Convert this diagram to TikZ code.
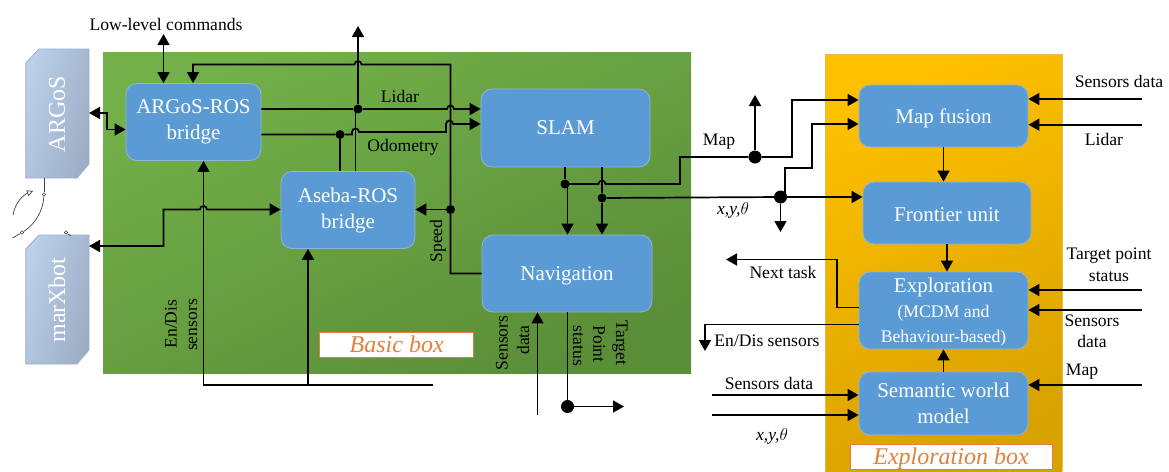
\documentclass[tikz,border=0pt]{standalone}
\usepackage{fontspec}
\setmainfont{Liberation Serif}
\usetikzlibrary{arrows.meta}
\definecolor{blk}{HTML}{5B9BD5}
\definecolor{blkedge}{HTML}{8FB6DA}
\definecolor{greenT}{HTML}{72B049}
\definecolor{greenB}{HTML}{5B8E38}
\definecolor{orangeT}{HTML}{FFC000}
\definecolor{orangeB}{HTML}{D8A200}
\definecolor{robotL}{HTML}{BBD0EA}
\definecolor{robotR}{HTML}{9DADC6}
\definecolor{robotE}{HTML}{9EB0C8}
\definecolor{titleC}{HTML}{E0813F}
\tikzset{
  x=1pt,y=-1pt,
  block/.style={draw=blkedge,line width=0.8pt,fill=blk,rounded corners=11pt,text=white,inner sep=0pt,align=center,font=\fontsize{21}{26}\selectfont},
  robottext/.style={inner sep=0pt,text=white,rotate=90,font=\fontsize{24}{28}\selectfont},
  robotbody/.style={draw=robotE,line width=0.8pt,left color=robotL,right color=robotR,shading angle=75},
  lab/.style={inner sep=0pt,text=black,align=center,font=\fontsize{17.6}{21}\selectfont},
  vlab/.style={lab,rotate=90},
  dlab/.style={lab,rotate=-90},
  boxtitle/.style={draw=titleC,line width=1pt,fill=white,text=titleC,inner sep=0pt,font=\fontsize{24}{28}\selectfont\itshape},
  wire/.style={line width=1.7pt,black},
  arr/.style={wire,-{Triangle[length=11pt,width=12pt]}},
  darr/.style={wire,{Triangle[length=11pt,width=12pt]}-{Triangle[length=11pt,width=12pt]}},
  jdot/.style={circle,fill=black,inner sep=0pt,minimum size=9pt},
  bigdot/.style={circle,fill=black,inner sep=0pt,minimum size=13pt},
  fine/.style={line width=0.7pt,black!75},
  pin/.style={circle,draw=black!75,line width=0.6pt,fill=white,inner sep=0pt,minimum size=3.5pt},
}
\newcommand{\hopr}{arc (180:360:3.5)}
\newcommand{\hopl}{arc (360:180:3.5)}
\newcommand{\xyt}{\textit{x,y,}$\theta$}
\begin{document}
\begin{tikzpicture}
\useasboundingbox (0,0) rectangle (1169,471);
% containers
\shade[top color=greenT,bottom color=greenB,shading angle=25] (103,52) rectangle (691,373);
\shade[top color=orangeT,bottom color=orangeB,shading angle=25] (825,54) rectangle (1062,471);
\draw[orangeB!70!white,line width=0.6pt] (825,471) -- (825,54) -- (1062,54) -- (1062,471);
% robots
\path[robotbody] (25.7,63) -- (39,49) -- (89,49) -- (89,164) -- (77,178) -- (25.7,178) -- cycle;
\path[robotbody] (25.7,249) -- (39,235) -- (89,235) -- (89,350) -- (77,364) -- (25.7,364) -- cycle;
\node[robottext] (argos) at (57,114) {ARGoS};
\node[robottext] (marx) at (57,300) {marXbot};
\coordinate (argosR) at (89,113);
\coordinate (marxR) at (89,246);
% blocks
\node[block,minimum width=135pt,minimum height=77pt] (arb) at (193.5,122) {ARGoS-ROS\\bridge};
\node[block,minimum width=134pt,minimum height=77pt] (ase) at (348,210) {Aseba-ROS\\bridge};
\node[block,minimum width=169pt,minimum height=78pt] (slam) at (565.5,128) {SLAM};
\node[block,minimum width=170pt,minimum height=77pt] (nav) at (567,273.5) {\rule{0pt}{18.5pt}Navigation};
\node[block,minimum width=169pt,minimum height=62pt] (mapf) at (943.5,116) {\rule{0pt}{18.5pt}Map fusion};
\node[block,minimum width=168pt,minimum height=62pt] (front) at (947,213) {\rule{0pt}{16.5pt}Frontier unit};
\node[block,minimum width=169pt,minimum height=77pt] (expl) at (943.5,310.5) {\rule{0pt}{18.5pt}Exploration\\[-1pt]{\fontsize{17.7}{26}\selectfont (MCDM and}\\[-1pt]{\fontsize{17.7}{26}\selectfont Behaviour-based)}};
\node[block,minimum width=169pt,minimum height=63pt] (sem) at (943.5,403.5) {Semantic world\\model};
\node[boxtitle,minimum width=154pt,minimum height=25pt] (basic) at (396.7,344.5) {Basic box};
\node[boxtitle,minimum width=202pt,minimum height=24pt] (expbox) at (951,457) {\rule{0pt}{20pt}Exploration box};
% junctions
\node[jdot] (jLidar) at (358,109) {};
\node[jdot] (jOdo) at (340,134.5) {};
\node[jdot] (jSpeed) at (450.5,209.5) {};
\node[jdot] (jMapS) at (565,184) {};
\node[jdot] (jPose) at (602,198) {};
\node[bigdot] (jMap) at (755,157) {};
\node[bigdot] (jPoseR) at (780.5,197) {};
\node[bigdot] (jTarget) at (567.5,406.5) {};
% free ends
\coordinate (topEnd) at (358,26);
\coordinate (lowEnd) at (163.5,34);
\coordinate (enEnd) at (433,385);
\coordinate (navIn) at (537.5,415);
\coordinate (targetEnd) at (624,406.5);
\coordinate (mapUp) at (755,95);
\coordinate (poseDown) at (780.5,232);
\coordinate (nextEnd) at (726,259.5);
\coordinate (enDisEnd) at (705,351);
\coordinate (rSens) at (1142,99);
\coordinate (rLidar) at (1142,124.7);
\coordinate (rTarget) at (1142,290);
\coordinate (rSens2) at (1142,310);
\coordinate (rMap) at (1142,385);
\coordinate (lSens) at (712,395);
\coordinate (lPose) at (712,415);
% left side
\draw[darr] (lowEnd) -- (arb.north -| lowEnd);
\draw[darr] (argosR) -- (107,113) -- (107,129.5) -- (arb.west |- 0,129.5);
\draw[darr] (marxR) -- (163.5,246) -- (163.5,209.5) -- (200,209.5) \hopr -- (ase.west |- 0,209.5);
\draw[arr] (enEnd) -- (203.5,385) -- (arb.south -| 203.5,0);
\draw[arr] (308,385) -- (ase.south -| 308,0);
% Lidar and odometry
\draw[arr] (arb.east |- jLidar) -- (jLidar) -- (447,109) \hopr -- (slam.west |- jLidar);
\draw[arr] (arb.east |- jOdo) -- (jOdo) -- (352,134.5) -- (352,132) \hopr -- (446,132) -- (446,124) \hopr -- (slam.west |- 0,124);
\draw[wire] (ase.north -| jOdo) -- (jOdo);
\draw[wire] (ase.north -| 355.5,0) -- (355.5,112);
\draw[arr] (jLidar) -- (topEnd);
% speed
\draw[arr] (nav.west) -- (450.5,273.5) -- (jSpeed) -- (450.5,64.5) -- (361.5,64.5) \hopl -- (193,64.5) -- (arb.north -| 193,0);
\draw[arr] (jSpeed) -- (ase.east |- jSpeed);
% SLAM outputs
\draw[wire] (slam.south -| jMapS) -- (jMapS);
\draw[arr] (jMapS) -- (567.5,184) -- (nav.north -| 567.5,0);
\draw[arr] (slam.south -| jPose) -- (jPose) -- (nav.north -| jPose);
\draw[arr] (jMapS) -- (598.5,184) \hopr -- (680,184) -- (680,157) -- (jMap) -- (792,157) -- (792,100) -- (mapf.west |- 0,100);
\draw[arr] (jMap) -- (mapUp);
\draw[arr] (jPose) -- (jPoseR) -- (front.west |- jPoseR);
\draw[arr] (jPoseR) -- (poseDown);
\draw[arr] (785,197) -- (785,168) -- (812,168) -- (812,124) -- (mapf.west |- 0,124);
% navigation
\draw[arr] (navIn) -- (nav.south -| navIn);
\draw[wire] (nav.south -| jTarget) -- (jTarget);
\draw[arr] (jTarget) -- (targetEnd);
% exploration box
\draw[arr] (rSens) -- (mapf.east |- rSens);
\draw[arr] (rLidar) -- (mapf.east |- rLidar);
\draw[arr] (mapf.south) -- (front.north -| mapf.south);
\draw[arr] (front.south) -- (expl.north -| front.south);
\draw[arr] (sem.north) -- (expl.south);
\draw[arr] (rTarget) -- (expl.east |- rTarget);
\draw[arr] (rSens2) -- (expl.east |- rSens2);
\draw[arr] (rMap) -- (sem.east |- rMap);
\draw[arr] (expl.west |- 0,307.5) -- (837,307.5) -- (837,259.5) -- (nextEnd);
\draw[arr] (expl.west |- 0,324.5) -- (705,324.5) -- (enDisEnd);
\draw[arr] (lSens) -- (sem.west |- lSens);
\draw[arr] (lPose) -- (sem.west |- lPose);
% switch icon
\node[pin] (pA) at (44,194.5) {};
\node[pin] (pB) at (22,232.5) {};
\node[pin] (pC) at (66,232.5) {};
\coordinate (swTop) at (44,178);
\coordinate (swEnd) at (12.5,238);
\coordinate (swC) at (71,236);
\coordinate (arcA) at (13,215);
\coordinate (arcB) at (33,191);
\draw[fine] (swTop) -- (pA);
\draw[fine] (pA) .. controls (43,212) and (34,225) .. (pB);
\draw[fine] (pB) -- (swEnd);
\draw[fine] (pC) -- (swC);
\draw[fine,-{Triangle[open,length=6pt,width=6pt]}] (arcA) .. controls (15,203) and (23,195) .. (arcB);
% labels
\node[lab] (tLow) at (166,24) {Low-level commands};
\node[lab] (tLidar) at (400,96) {Lidar};
\node[lab] (tOdo) at (403,147) {Odometry};
\node[vlab] (tEn) at (171,324) {En/Dis};
\node[vlab] (tSe) at (193,325) {sensors};
\node[vlab] (tSpeed) at (438,241) {Speed};
\node[vlab] (tSn) at (502,343) {Sensors};
\node[vlab] (tDa) at (523,340) {data};
\node[dlab] (tTa) at (620,343) {Target};
\node[dlab] (tPo) at (599,344) {Point};
\node[dlab] (tSt) at (578,346) {status};
\node[lab] (tMap) at (719,142) {Map};
\node[lab] (tPose) at (733,210) {\xyt};
\node[lab] (tNext) at (783,272) {Next task};
\node[lab] (tEnD) at (767,341) {En/Dis sensors};
\node[lab] (tSL) at (769,383) {Sensors data};
\node[lab] (tPoseL) at (772,436) {\xyt};
\node[lab] (tSR) at (1119,81) {Sensors data};
\node[lab] (tLR) at (1104,139) {Lidar};
\node[lab] (tTP) at (1109,256) {Target point};
\node[lab] (tSs) at (1109,277) {status};
\node[lab] (tSD) at (1092,320.5) {Sensors};
\node[lab] (tDD) at (1092,341) {data};
\node[lab] (tMR) at (1082,372) {Map};
\end{tikzpicture}
\end{document}
